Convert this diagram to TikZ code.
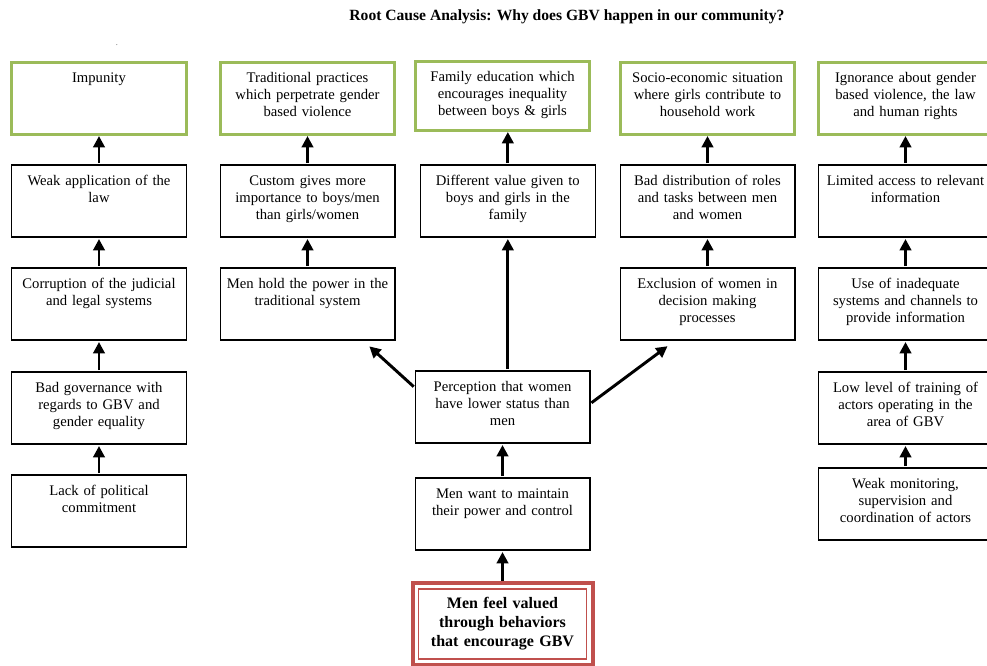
\documentclass[tikz,border=0pt]{standalone}
\usepackage{fontspec}
\setmainfont{Liberation Serif}
\usetikzlibrary{
	arrows.meta,
	positioning
}
\definecolor{rootgreen}{RGB}{155,187,89}
\definecolor{corered}{RGB}{192,80,77}
\tikzset{
%Define standard arrow tip
>={Triangle[length=8.5pt,width=8.5pt]},
%Define style for cause boxes
cause/.style={
	rectangle,
	draw=black, line width=1pt,
	outer sep=0pt,
	text width=121pt,
	inner xsep=5pt, inner ysep=5pt,
	text height=10pt, text depth=34pt,
	text centered,
	font=\fontsize{11}{12.75}\selectfont},
%Define style for the boxes on top
root/.style={
	cause,
	draw=rootgreen, line width=2.25pt},
%Define style for the core box
core/.style={
	rectangle,
	draw=corered, line width=3pt,
	outer sep=0pt,
	text width=125pt,
	minimum width=135pt, minimum height=61.5pt,
	text centered,
	font=\fontsize{12}{14.25}\selectfont\bfseries},
% Define arrow style
pil/.style={
	->,
	line width=2.2pt,
	shorten <=1.5pt,
	shorten >=1.5pt,}
}
\begin{document}
\begin{tikzpicture}[x=0.75pt,y=-0.75pt]
	\useasboundingbox (0,0) rectangle (987,665);
	\clip (0,0) rectangle (987,665);
	\node[font=\fontsize{11.7}{13}\selectfont\bfseries] (title) at (567,17) {Root Cause Analysis: Why does GBV happen in our community?};
	\node[font=\tiny] (dot) at (117,45) {.};
	% top row
	\node[root] (impunity) at (99,98) {Impunity};
	\node[root] (tradprac) at (307.5,98) {Traditional practices\\ which perpetrate gender\\ based violence};
	\node[root, text depth=31.75pt] (familyedu) at (502.5,95.5) {Family education which\\ encourages inequality\\ between boys \& girls};
	\node[root] (socio) at (707.5,98) {Socio-economic situation\\ where girls contribute to\\ household work};
	\node[root] (ignorance) at (905.5,98) {Ignorance about gender\\ based violence, the law\\ and human rights};
	% first column
	\node[cause, below=23.25pt of impunity] (weaklaw) {Weak application of the\\ law};
	\node[cause, below=23.25pt of weaklaw] (corruption) {Corruption of the judicial\\ and legal systems};
	\node[cause, below=24pt of corruption] (badgov) {Bad governance with\\ regards to GBV and\\ gender equality};
	\node[cause, below=23.25pt of badgov] (lackpol) {Lack of political\\ commitment};
	% second column
	\node[cause, below=23.25pt of tradprac] (custom) {Custom gives more\\ importance to boys/men\\ than girls/women};
	\node[cause, below=23.25pt of custom] (menhold) {Men hold the power in the\\ traditional system};
	% middle column
	\node[cause, below=26.25pt of familyedu, xshift=4pt] (diffval) {Different value given to\\ boys and girls in the\\ family};
	\node[cause] (perception) at (502.5,407) {Perception that women\\ have lower status than\\ men};
	\node[cause, below=26.25pt of perception] (menwant) {Men want to maintain\\ their power and control};
	\node[core, below=24.75pt of menwant] (valued) {Men feel valued\\ through behaviors\\ that encourage GBV};
	\draw[corered, line width=0.9pt] ([shift={(4.5pt,-4.5pt)}]valued.north west) rectangle ([shift={(-4.5pt,4.5pt)}]valued.south east);
	% fourth column
	\node[cause, below=23.25pt of socio] (baddist) {Bad distribution of roles\\ and tasks between men\\ and women};
	\node[cause, below=23.25pt of baddist] (exclusion) {Exclusion of women in\\ decision making\\ processes};
	% last column
	\node[cause, below=23.25pt of ignorance] (limited) {Limited access to relevant\\ information};
	\node[cause, below=23.25pt of limited] (inadequate) {Use of inadequate\\ systems and channels to\\ provide information};
	\node[cause, below=24pt of inadequate] (lowlevel) {Low level of training of\\ actors operating in the\\ area of GBV};
	\node[cause, below=18pt of lowlevel] (monitoring) {Weak monitoring,\\ supervision and\\ coordination of actors};
	% arrows
	\draw[pil] (weaklaw) -- (impunity);
	\draw[pil] (corruption) -- (weaklaw);
	\draw[pil] (badgov) -- (corruption);
	\draw[pil] (lackpol) -- (badgov);
	\draw[pil] (custom) -- (tradprac);
	\draw[pil] (menhold) -- (custom);
	\draw[pil] (diffval.north) -- (diffval.north |- familyedu.south);
	\draw[pil] (perception.north -| diffval) -- (diffval.south);
	\draw[pil] (menwant) -- (perception);
	\draw[pil] (valued) -- (menwant);
	\draw[pil] ([yshift=-12.75pt]perception.north west) -- ([xshift=-20.25pt,yshift=-3.75pt]menhold.south east);
	\draw[pil] ([yshift=-24.75pt]perception.north east) -- ([xshift=36.75pt,yshift=-3.75pt]exclusion.south west);
	\draw[pil] (baddist) -- (socio);
	\draw[pil] (exclusion) -- (baddist);
	\draw[pil] (limited) -- (ignorance);
	\draw[pil] (inadequate) -- (limited);
	\draw[pil] (lowlevel) -- (inadequate);
	\draw[pil] (monitoring) -- (lowlevel);
\end{tikzpicture}
\end{document}
